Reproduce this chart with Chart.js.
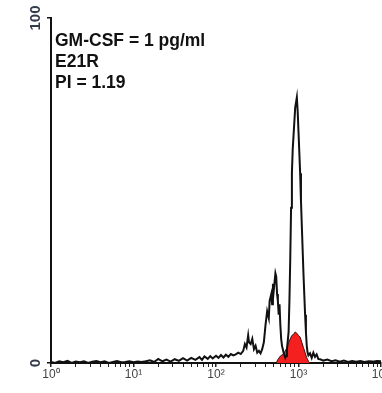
<!DOCTYPE html>
<html>
<head>
<meta charset="utf-8">
<script src="https://cdn.jsdelivr.net/npm/chart.js@4/dist/chart.umd.min.js"></script>
<style>
  html, body { margin: 0; padding: 0; background: #fff; overflow: hidden; }
  #wrap { width: 400px; height: 393px; }
</style>
</head>
<body>
<div id="wrap"><canvas id="myChart"></canvas></div>
<script>
// Eixo x em décadas (log10 da fluorescência), eixo y em contagens (0-100)
const decadeLabels = ['10\u2070', '10\u00b9', '10\u00b2', '10\u00b3', '10\u2074'];
const yTickLabels = ['0', '100'];
const infoLines = ['GM-CSF = 1 pg/ml', 'E21R', 'PI = 1.19'];

// Histograma preto (E21R)
const e21rChannel = [
    0.00, 0.05, 0.10, 0.15, 0.20, 0.25, 0.30, 0.35, 0.40, 0.45, 0.50, 0.55, 0.60, 0.65, 0.70, 0.75,
    0.80, 0.85, 0.90, 0.95, 1.00, 1.05, 1.10, 1.15, 1.20, 1.25, 1.30, 1.35, 1.40, 1.45, 1.50, 1.55,
    1.60, 1.65, 1.70, 1.75, 1.80, 1.83, 1.86, 1.90, 1.93, 1.96, 2.00, 2.03, 2.06, 2.09, 2.12, 2.15,
    2.18, 2.21, 2.24, 2.27, 2.30, 2.33, 2.35, 2.37, 2.39, 2.40, 2.42, 2.44, 2.46, 2.48, 2.50, 2.52,
    2.54, 2.56, 2.58, 2.60, 2.62, 2.64, 2.65, 2.67, 2.68, 2.69, 2.70, 2.72, 2.73, 2.74, 2.75, 2.76,
    2.77, 2.78, 2.79, 2.80, 2.82, 2.84, 2.85, 2.86, 2.88, 2.89, 2.90, 2.91, 2.92, 2.93, 2.95, 2.96,
    2.98, 2.99, 3.00, 3.01, 3.02, 3.03, 3.04, 3.05, 3.06, 3.07, 3.08, 3.09, 3.10, 3.11, 3.12, 3.14,
    3.16, 3.18, 3.20, 3.22, 3.24, 3.27, 3.30, 3.35, 3.40, 3.45, 3.50, 3.55, 3.60, 3.65, 3.70, 3.75,
    3.80, 3.85, 3.90, 3.95, 4.00
];
const e21rCounts = [
    0.3, 0, 0.5, 0.2, 0.6, 0, 0.4, 0.2, 0.5, 0, 0.4, 0.6, 0.2, 0.5, 0, 0.3,
    0.6, 0.2, 0.3, 0.5, 0.2, 0.4, 0.3, 0.5, 0.8, 0.3, 1.2, 0.5, 1.0, 0.4, 1.1, 0.6,
    1.4, 0.7, 1.5, 0.9, 1.7, 0.9, 1.9, 1.2, 2.0, 1.3, 2.1, 1.5, 2.3, 1.6, 2.4, 1.8,
    2.6, 2.2, 2.5, 3.0, 2.6, 3.5, 5.5, 4.5, 8.0, 6.0, 5.5, 7.0, 4.0, 5.0, 3.0, 3.5,
    2.8, 4, 6, 11, 15, 13, 18, 20, 17, 23, 21, 26, 25, 20, 18, 14,
    17, 11, 7, 5, 3, 1.5, 2, 4, 9, 18, 30, 45, 55, 62, 70, 74,
    77, 73, 67, 61, 55, 47, 40, 33, 26, 20, 14, 9, 5, 3, 2.2, 2.8,
    1.5, 3.0, 1.8, 2.5, 1.2, 1.0, 0.7, 1.0, 0.5, 0.8, 0.4, 0.7, 0.3, 0.6, 0.4, 0.6,
    0.3, 0.5, 0.4, 0.6, 0.5
];

// Histograma vermelho (controle)
const controlChannel = [2.73, 2.75, 2.78, 2.81, 2.84, 2.86, 2.88, 2.90, 2.92, 2.94, 2.96, 2.98, 3.00, 3.02, 3.04, 3.06, 3.08, 3.10, 3.12, 3.14];
const controlCounts = [0, 1, 2, 2.5, 3.5, 4.5, 6, 7, 8, 8.3, 9, 8.6, 8, 7.5, 6, 4.5, 3, 1.5, 0.5, 0];

const toPoints = (xs, ys) => xs.map((x, i) => ({ x: x, y: ys[i] }));

// Rótulos do eixo y girados e texto de informação
const extraText = {
    id: 'extraText',
    afterDraw(chart) {
        const c = chart.ctx;
        const y = chart.scales.y;
        c.save();
        c.fillStyle = '#333b4a';
        c.font = 'bold 15px Arial, "Liberation Sans"';
        c.textAlign = 'center';
        c.textBaseline = 'middle';
        yTickLabels.forEach(t => {
            c.save();
            c.translate(36, y.getPixelForValue(Number(t)));
            c.rotate(-Math.PI / 2);
            c.fillText(t, 0, 0);
            c.restore();
        });
        c.fillStyle = '#111';
        c.font = 'bold 17.5px Arial, "Liberation Sans"';
        c.textAlign = 'left';
        c.textBaseline = 'alphabetic';
        infoLines.forEach((t, i) => c.fillText(t, 55, 46 + i * 21));
        c.restore();
    }
};

const ctx = document.getElementById('myChart').getContext('2d');
new Chart(ctx, {
    type: 'line',
    data: {
        datasets: [
            {
                data: toPoints(e21rChannel, e21rCounts),
                borderColor: '#111',
                borderWidth: 2,
                pointRadius: 0,
                fill: false,
                tension: 0
            },
            {
                data: toPoints(controlChannel, controlCounts),
                borderColor: '#3a1010',
                borderWidth: 1,
                backgroundColor: '#f41f1f',
                pointRadius: 0,
                fill: 'origin',
                tension: 0
            }
        ]
    },
    options: {
        responsive: true,
        maintainAspectRatio: false,
        animation: false,
        layout: { padding: { top: 18, left: 0, right: 19, bottom: 0 } },
        plugins: { legend: { display: false }, tooltip: { enabled: false } },
        scales: {
            x: {
                type: 'linear',
                min: 0,
                max: 4,
                afterBuildTicks(scale) {
                    const ticks = [];
                    for (let n = 0; n < 4; n++) {
                        for (let k = 1; k <= 9; k++) ticks.push({ value: n + Math.log10(k) });
                    }
                    ticks.push({ value: 4 });
                    scale.ticks = ticks;
                },
                afterFit(scale) { scale.height = 30; },
                border: { display: true, color: '#111', width: 2 },
                grid: {
                    drawOnChartArea: false,
                    tickLength: 4,
                    color: '#222',
                    lineWidth: c => Number.isInteger(c.tick.value) ? 1.5 : 1
                },
                ticks: {
                    autoSkip: false,
                    maxRotation: 0,
                    padding: 0,
                    color: '#444',
                    font: { family: 'Arial, "Liberation Sans"', size: 12 },
                    callback: v => Number.isInteger(v) ? decadeLabels[v] : ''
                }
            },
            y: {
                min: 0,
                max: 100,
                afterFit(scale) { scale.width = 51; },
                border: { display: true, color: '#111', width: 2 },
                grid: { drawOnChartArea: false, tickLength: 4, color: '#111', lineWidth: 1.5 },
                ticks: { stepSize: 100, display: false }
            }
        }
    },
    plugins: [extraText]
});
</script>
</body>
</html>
